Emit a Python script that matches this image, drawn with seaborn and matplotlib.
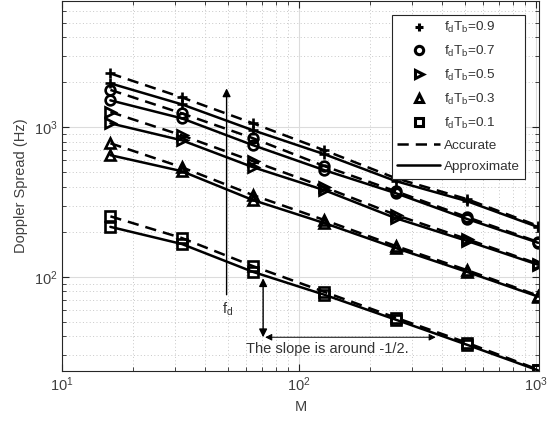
import numpy as np
import matplotlib
matplotlib.use("Agg")
import matplotlib.pyplot as plt
from matplotlib.lines import Line2D
from matplotlib.ticker import LogLocator, NullFormatter
import seaborn as sns

# Data (Doppler spread in Hz vs M)
M = [16, 32, 64, 128, 256, 512, 1024]
fdtb_labels = ["0.9", "0.7", "0.5", "0.3", "0.1"]
markers = ["+", "o", ">", "^", "s"]

accurate_09 = [2290, 1585, 1063, 702, 457, 331, 219]
accurate_07 = [1778, 1240, 845, 550, 374, 251, 171]
accurate_05 = [1265, 884, 593, 398, 260, 179, 122]
accurate_03 = [782, 541, 352, 240, 161, 111, 74.9]
accurate_01 = [254, 182, 118, 79.4, 53.4, 36.3, 24.0]

approx_09 = [1965, 1424, 955, 661, 437, 321, 215]
approx_07 = [1514, 1148, 759, 517, 363, 244, 169]
approx_05 = [1063, 819, 541, 380, 247, 174, 120.5]
approx_03 = [651, 509, 326, 229, 156, 108, 73.8]
approx_01 = [216, 166, 108, 76, 51.8, 35.2, 23.7]

accurate = [accurate_09, accurate_07, accurate_05, accurate_03, accurate_01]
approx = [approx_09, approx_07, approx_05, approx_03, approx_01]

sns.set_style("ticks")
plt.rcParams["font.family"] = ["Liberation Sans", "DejaVu Sans"]
plt.rcParams["mathtext.fontset"] = "custom"
plt.rcParams["mathtext.rm"] = "Liberation Sans"
plt.rcParams["mathtext.it"] = "Liberation Sans"

fig = plt.figure(figsize=(5.59, 4.24), dpi=100)
ax = fig.add_axes([0.111, 0.125, 0.853, 0.873])

mkw = dict(color="black", markersize=7, markeredgewidth=1.9,
           markerfacecolor="none", markeredgecolor="black")

for acc, app, mk in zip(accurate, approx, markers):
    sns.lineplot(x=M, y=acc, ax=ax, marker=mk, linestyle=(0, (4.5, 2.8)),
                 linewidth=1.8, **mkw)
    sns.lineplot(x=M, y=app, ax=ax, marker=mk, linestyle="-",
                 linewidth=1.8, **mkw)

ax.set_xscale("log")
ax.set_yscale("log")
ax.set_xlim(10, 1030)
ax.set_ylim(23.5, 7000)

ax.xaxis.set_major_locator(LogLocator(base=10))
ax.yaxis.set_major_locator(LogLocator(base=10))
ax.xaxis.set_minor_locator(LogLocator(base=10, subs=np.arange(2, 10)))
ax.yaxis.set_minor_locator(LogLocator(base=10, subs=np.arange(2, 10)))
ax.xaxis.set_minor_formatter(NullFormatter())
ax.yaxis.set_minor_formatter(NullFormatter())

ax.grid(True, which="major", color="#dcdcdc", linewidth=0.8, linestyle="-")
ax.grid(True, which="minor", color="#c8c8c8", linewidth=0.7, linestyle=(0, (1, 2.5)))
ax.set_axisbelow(True)

ax.tick_params(which="both", direction="in", top=True, right=True,
               colors="#262626", labelcolor="#404040", labelsize=10.5)
ax.tick_params(which="major", length=5)
ax.tick_params(which="minor", length=3)
for sp in ax.spines.values():
    sp.set_color("#262626")
    sp.set_linewidth(0.8)

ax.set_xlabel("M", fontsize=10.5, color="#404040")
ax.set_ylabel("Doppler Spread (Hz)", fontsize=10.5, color="#404040")

# annotations
ax.annotate("", xy=(49.5, 1820), xytext=(49.5, 76),
            arrowprops=dict(arrowstyle="-|>", color="black", lw=1.0,
                            mutation_scale=12, shrinkA=0, shrinkB=0))
ax.text(50, 61, r"f$_\mathregular{d}$", fontsize=10.5, color="#333333",
        ha="center", va="center")
ax.annotate("", xy=(70.6, 98), xytext=(70.6, 39.5),
            arrowprops=dict(arrowstyle="<|-|>", color="black", lw=1.0,
                            mutation_scale=12, shrinkA=0, shrinkB=0))
ax.annotate("", xy=(72, 39.5), xytext=(378, 39.5),
            arrowprops=dict(arrowstyle="<|-|>", color="black", lw=0.7,
                            mutation_scale=10, shrinkA=0, shrinkB=0))
ax.text(60, 32.8, "The slope is around -1/2.", fontsize=10.5,
        color="#333333", ha="left", va="center")

handles = []
for mk, lab in zip(markers, fdtb_labels):
    handles.append(Line2D([], [], linestyle="none", marker=mk, markersize=6,
                          markeredgewidth=2.2, markerfacecolor="none",
                          markeredgecolor="black",
                          label=r"f$_\mathregular{d}$T$_\mathregular{b}$=" + lab))
handles.append(Line2D([], [], color="black", linestyle=(0, (4.5, 2.8)),
                      linewidth=1.8, label="Accurate"))
handles.append(Line2D([], [], color="black", linestyle="-",
                      linewidth=1.8, label="Approximate"))
leg = ax.legend(handles=handles, loc="upper right", fontsize=9.7,
                frameon=True, fancybox=False, edgecolor="#262626",
                framealpha=1, handlelength=3.2, handletextpad=0.25,
                borderpad=0.4, labelspacing=0.65, borderaxespad=0,
                bbox_to_anchor=(0.971, 0.962))
leg.get_frame().set_linewidth(0.8)
for t in leg.get_texts():
    t.set_color("#333333")

fig.savefig("out.png", dpi=100)
